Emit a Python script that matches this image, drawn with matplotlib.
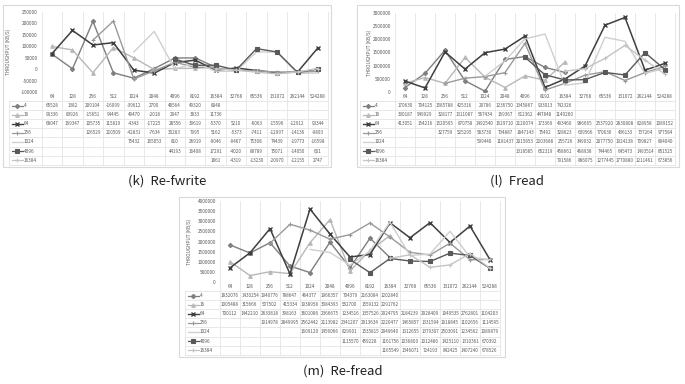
import numpy as np
import matplotlib
matplotlib.use('Agg')
import matplotlib.pyplot as plt
from matplotlib.transforms import blended_transform_factory
from matplotlib.lines import Line2D
from matplotlib.patches import Rectangle

plt.rcParams['font.family'] = ['Noto Sans CJK KR', 'DejaVu Sans']

categories = ['64', '128', '256', '512', '1024', '2048', '4096', '8192',
              '16384', '32768', '65536', '131072', '262144', '524288']
series_names = ['4', '16', '64', '256', '1024', '4096', '16384']

N = None
refwrite_4 = [65528, 1382, 209104, -16099, -39612, 2700, 48564, 49320, 8048, N, N, N, N, N]
refwrite_16 = [99336, 83926, -15651, 94445, 49470, -2018, 2947, 3833, 11736, N, N, N, N, N]
refwrite_64 = [68047, 169347, 105735, 115819, -4343, -17225, 28556, 39619, -5370, 5210, -6063, -15596, -12912, 93344]
refwrite_256 = [N, N, 126529, 210509, -42831, -7634, 30283, 7995, 5162, -5373, -7411, -12997, -14136, -9893]
refwrite_1024 = [N, N, N, N, 75432, 165053, 810, 26919, -9046, -9467, 75308, 74439, -19773, -16598]
refwrite_4096 = [N, N, N, N, N, N, 44193, 16408, 17291, -4020, 89789, 75071, -14050, 601]
refwrite_16384 = [N, N, N, N, N, N, N, N, 1861, -4319, -13230, -20970, -12155, 2747]

fread_4 = [170630, 704125, 1585788, 425316, 29786, 1236750, 1345867, 933013, 742326, N, N, N, N, N]
fread_16 = [330187, 549929, 328177, 1311087, 567434, 169367, 612362, 447848, 1140260, N, N, N, N, N]
fread_64 = [413051, 154216, 1520595, 870758, 1492540, 1629710, 2120074, 173369, 493460, 986665, 2537920, 2830808, 828958, 1089152]
fread_256 = [N, N, 327759, 525295, 583730, 734887, 1847143, 75492, 328623, 639566, 770630, 436133, 737264, 977584]
fread_1024 = [N, N, N, N, 599440, 1181437, 2015853, 2203688, 255726, 349032, 2077750, 1924138, 709827, 894040]
fread_4096 = [N, N, N, N, N, N, 1318585, 652319, 458661, 468938, 744465, 645473, 1493514, 851525]
fread_16384 = [N, N, N, N, N, N, N, N, 791586, 886075, 1277445, 1770880, 1211461, 673856]

refread_4 = [1832076, 1430254, 1940776, 788647, 464377, 1966357, 704379, 2163084, 1202840, N, N, N, N, N]
refread_16 = [1005488, 315666, 507502, 415334, 1938958, 3084393, 552700, 1559132, 2291762, N, N, N, N, N]
refread_64 = [700112, 1442210, 2633818, 398163, 3601086, 2366675, 1234516, 1357526, 2924795, 2184239, 2928409, 1949535, 2762801, 1104203]
refread_256 = [N, N, 1914978, 2849995, 2562442, 2113982, 2341207, 2913634, 2220477, 1465857, 1331594, 1918845, 1102656, 1114595]
refread_1024 = [N, N, N, N, 1609120, 1456066, 829901, 1535815, 2949640, 1312655, 1379307, 2503091, 1234562, 1089879]
refread_4096 = [N, N, N, N, N, N, 1115570, 459228, 1161756, 1036800, 1012486, 1425110, 1310361, 670392]
refread_16384 = [N, N, N, N, N, N, N, N, 1165549, 1346071, 724193, 842425, 1407240, 678526]

styles = {
    '4':     dict(color='#7f7f7f', marker='D', ms=2.2, lw=1.0),
    '16':    dict(color='#b8b8b8', marker='^', ms=2.6, lw=1.0),
    '64':    dict(color='#3f3f3f', marker='x', ms=3.0, lw=1.1, mew=1.0),
    '256':   dict(color='#9a9a9a', marker='+', ms=2.2, lw=1.0),
    '1024':  dict(color='#cfcfcf', marker=None, ms=0, lw=1.0),
    '4096':  dict(color='#595959', marker='s', ms=3.0, lw=1.0),
    '16384': dict(color='#c4c4c4', marker='+', ms=2.2, lw=1.0),
}

W, H = 685, 384
fig = plt.figure(figsize=(W / 100, H / 100), dpi=100)
fig.patch.set_facecolor('white')

GRID = '#d9d9d9'
TXT = '#595959'


def fx(x):
    return x / W


def fy(y):
    return 1 - y / H


def panel(data, box, plot, legL, ylim, ystep, ylab_x, caption, cap_xy):
    bx0, by0, bx1, by1 = box
    px0, py0, px1, py1 = plot
    fig.add_artist(Rectangle((fx(bx0), fy(by1)), fx(bx1 - bx0), (by1 - by0) / H,
                             transform=fig.transFigure, fill=False,
                             edgecolor=GRID, lw=0.8))
    ax = fig.add_axes([fx(px0), fy(py1), fx(px1 - px0), (py1 - py0) / H])
    ax.set_facecolor('none')
    x = np.arange(len(categories))
    for name, vals in zip(series_names, data):
        v = np.array([np.nan if a is None else a for a in vals], dtype=float)
        st = styles[name]
        ax.plot(x, v, color=st['color'], lw=st['lw'], marker=st['marker'],
                ms=st['ms'], mew=st.get('mew', 0.8), zorder=3)
    ax.set_xlim(-0.5, len(categories) - 0.5)
    ax.set_ylim(*ylim)
    ax.set_yticks(np.arange(ylim[0], ylim[1] + 1, ystep))
    ax.set_yticklabels([f'{int(t)}' for t in np.arange(ylim[0], ylim[1] + 1, ystep)])
    ax.tick_params(axis='y', labelsize=3.4, length=0, pad=3, colors=TXT)
    ax.set_xticks([])
    for s in ax.spines.values():
        s.set_visible(False)
    fig.text(fx(ylab_x), fy((py0 + py1) / 2), 'THROUGHPUT (KB/S)', rotation=90,
             ha='center', va='center', fontsize=3.3, color=TXT)

    blend = blended_transform_factory(ax.transData, fig.transFigure)
    # table geometry
    head_top = py1
    head_bot = py1 + 9
    row_h = 9.1
    tab_bot = head_bot + row_h * len(series_names)
    # vertical gridlines through plot and table
    for b in np.arange(-0.5, len(categories), 1.0):
        fig.add_artist(Line2D([b, b], [fy(py0), fy(tab_bot)], transform=blend,
                              color='#e4e4e4', lw=0.6, zorder=0))
    # horizontal table lines
    for k in range(len(series_names) + 1):
        yy = head_bot + k * row_h
        fig.add_artist(Line2D([fx(legL), fx(px1)], [fy(yy), fy(yy)],
                              transform=fig.transFigure, color='#e4e4e4', lw=0.6))
    fig.add_artist(Line2D([fx(legL), fx(legL)], [fy(head_bot), fy(tab_bot)],
                          transform=fig.transFigure, color='#e4e4e4', lw=0.6))
    # header labels
    for i, c in enumerate(categories):
        ax.text(i, fy((head_top + head_bot) / 2 + 0.5), c, transform=blend,
                ha='center', va='center', fontsize=3.4, color=TXT, clip_on=False)
    # rows
    for r, (name, vals) in enumerate(zip(series_names, data)):
        yc = head_bot + (r + 0.5) * row_h
        st = styles[name]
        fig.add_artist(Line2D([fx(legL + 2.5), fx(legL + 13.5)], [fy(yc), fy(yc)],
                              transform=fig.transFigure, color=st['color'],
                              lw=st['lw'] * 0.9, marker=None))
        if st['marker']:
            fig.add_artist(Line2D([fx(legL + 8)], [fy(yc)], transform=fig.transFigure,
                                  color=st['color'], marker=st['marker'],
                                  ms=st['ms'], mew=st.get('mew', 0.8), lw=0))
        fig.text(fx(legL + 15), fy(yc), name, ha='left', va='center',
                 fontsize=3.4, color=TXT)
        for i, v in enumerate(vals):
            if v is not None:
                ax.text(i, fy(yc), f'{v}', transform=blend, ha='center', va='center',
                        fontsize=3.3, color=TXT, clip_on=False)
    fig.text(fx(cap_xy[0]), fy(cap_xy[1]), caption, ha='center', va='center',
             fontsize=9.5, color='#222222')


panel([refwrite_4, refwrite_16, refwrite_64, refwrite_256, refwrite_1024, refwrite_4096, refwrite_16384],
      box=(3, 5, 331, 167), plot=(41.8, 12, 328.2, 92), legL=9,
      ylim=(-100000, 250000), ystep=50000, ylab_x=8,
      caption='(k)  Re-fwrite', cap_xy=(167, 181))

panel([fread_4, fread_16, fread_64, fread_256, fread_1024, fread_4096, fread_16384],
      box=(357, 5, 679, 167), plot=(395, 13, 675, 92), legL=360,
      ylim=(0, 3000000), ystep=500000, ylab_x=369,
      caption='(l)  Fread', cap_xy=(517, 181))

panel([refread_4, refread_16, refread_64, refread_256, refread_1024, refread_4096, refread_16384],
      box=(179, 197, 505, 357), plot=(220, 201, 500, 282), legL=185,
      ylim=(0, 4000000), ystep=500000, ylab_x=189,
      caption='(m)  Re-fread', cap_xy=(343, 371))

fig.savefig('out.png', dpi=100, facecolor='white')
